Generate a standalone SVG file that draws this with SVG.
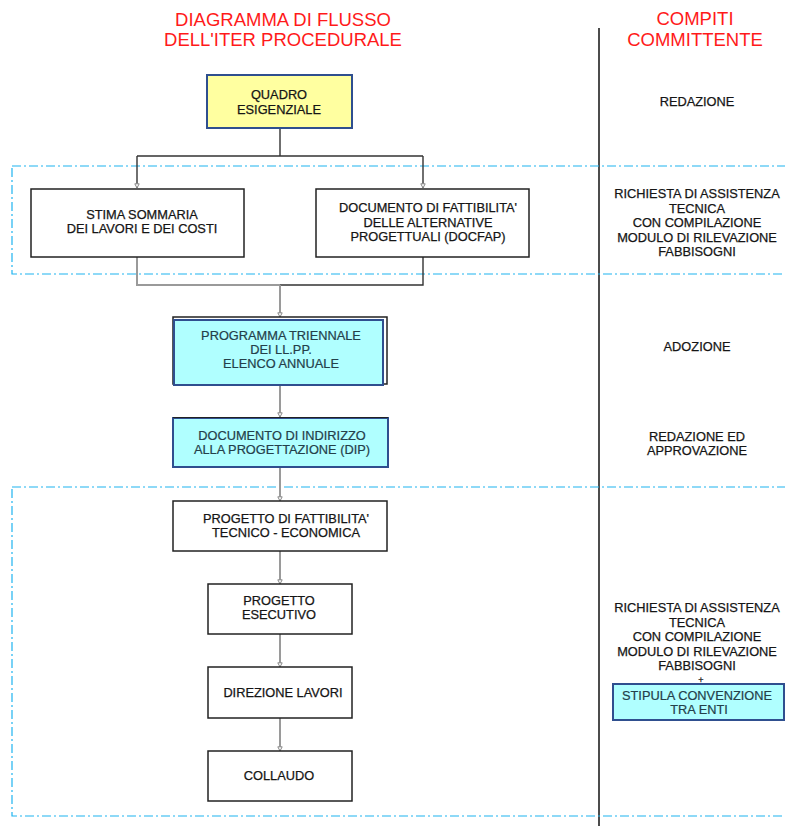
<svg xmlns="http://www.w3.org/2000/svg" width="785" height="826" viewBox="0 0 785 826">
<defs>
<marker id="arr" markerUnits="userSpaceOnUse" markerWidth="6" markerHeight="6" refX="5" refY="3" orient="auto" viewBox="0 0 6 6">
<path d="M0.8,0.8 L5,3 L0.8,5.2 Z" fill="#fff" stroke="#888" stroke-width="1"/>
</marker>
<style>
text{font-family:"Liberation Sans",Arial,sans-serif;text-anchor:middle}
.title{font-size:18.5px;fill:#ff1a1a}
.t{font-size:12.8px;fill:#151515;stroke:#151515;stroke-width:0.25}
.tc{font-size:12.8px;fill:#24404a;stroke:#24404a;stroke-width:0.2}
.box{fill:#fff;stroke:#222;stroke-width:1.5}
.cy{fill:#b0ffff;stroke:#2f4f8f;stroke-width:2}
.dash{fill:none;stroke:#1eb4f0;stroke-width:1.2;stroke-dasharray:9,3,2,3}
.dk{fill:none;stroke:#333;stroke-width:1.4}
.gr{fill:none;stroke:#9a9a9a;stroke-width:2}
</style>
</defs>
<rect width="785" height="826" fill="#fff"/>

<g id="titles">
<text class="title" x="283" y="26">DIAGRAMMA DI FLUSSO</text>
<text class="title" x="283" y="46">DELL'ITER PROCEDURALE</text>
<text class="title" x="695" y="25">COMPITI</text>
<text class="title" x="695" y="46">COMMITTENTE</text>
</g>

<line x1="599" y1="28" x2="599" y2="826" stroke="#111" stroke-width="1.5"/>

<g id="regions">
<rect class="dash" x="12" y="166" width="790" height="108"/>
<rect class="dash" x="12" y="487" width="790" height="329"/>
</g>

<g id="connectors">
<path class="dk" d="M280,128 V156 M137,156 H423"/>
<path class="dk" d="M137,156 V188" marker-end="url(#arr)"/>
<path class="dk" d="M423,156 V188" marker-end="url(#arr)"/>
<path class="gr" d="M137,257 V285 H280"/>
<path class="dk" d="M423,257 V285 H280"/>
<path class="gr" d="M280,285 V317" marker-end="url(#arr)"/>
<path class="gr" d="M280,385 V417" marker-end="url(#arr)"/>
<path class="gr" d="M280,467 V501" marker-end="url(#arr)"/>
<path class="gr" d="M280,551 V584" marker-end="url(#arr)"/>
<path class="gr" d="M280,634 V667" marker-end="url(#arr)"/>
<path class="gr" d="M280,718 V751" marker-end="url(#arr)"/>
</g>

<g id="quadro">
<rect x="207" y="75" width="145" height="53" fill="#ffffa0" stroke="#2f4f8f" stroke-width="2"/>
<text class="t" x="279" y="99">QUADRO</text>
<text class="t" x="279" y="113.5">ESIGENZIALE</text>
</g>

<g id="stima">
<rect class="box" x="31" y="189" width="213" height="68"/>
<text class="t" x="142" y="219">STIMA SOMMARIA</text>
<text class="t" x="142" y="233">DEI LAVORI E DEI COSTI</text>
</g>

<g id="docfap">
<rect class="box" x="316" y="189" width="213" height="68"/>
<text class="t" x="428" y="212">DOCUMENTO DI FATTIBILITA'</text>
<text class="t" x="428" y="226.5">DELLE ALTERNATIVE</text>
<text class="t" x="428" y="241">PROGETTUALI (DOCFAP)</text>
</g>

<g id="programma">
<rect x="173" y="317" width="214" height="67" fill="none" stroke="#222" stroke-width="1.5"/>
<rect class="cy" x="174" y="320" width="209" height="65"/>
<text class="tc" x="281" y="340">PROGRAMMA TRIENNALE</text>
<text class="tc" x="281" y="354">DEI LL.PP.</text>
<text class="tc" x="281" y="368">ELENCO ANNUALE</text>
</g>

<g id="dip">
<rect class="cy" x="173" y="418" width="215" height="49"/>
<line x1="173" y1="417.5" x2="388" y2="417.5" stroke="#222" stroke-width="1"/>
<text class="tc" x="282" y="440">DOCUMENTO DI INDIRIZZO</text>
<text class="tc" x="282" y="454">ALLA PROGETTAZIONE (DIP)</text>
</g>

<g id="pfte">
<rect class="box" x="173" y="501" width="214" height="50"/>
<text class="t" x="286" y="523">PROGETTO DI FATTIBILITA'</text>
<text class="t" x="286" y="537">TECNICO - ECONOMICA</text>
</g>

<g id="esecutivo">
<rect class="box" x="208" y="584" width="144" height="50"/>
<text class="t" x="279" y="605">PROGETTO</text>
<text class="t" x="279" y="619">ESECUTIVO</text>
</g>

<g id="direzione">
<rect class="box" x="208" y="667" width="144" height="51"/>
<text class="t" x="283" y="697">DIREZIONE LAVORI</text>
</g>

<g id="collaudo">
<rect class="box" x="208" y="751" width="144" height="50"/>
<text class="t" x="279" y="780">COLLAUDO</text>
</g>

<g id="compiti">
<text class="t" x="697" y="106">REDAZIONE</text>
<text class="t" x="697" y="198">RICHIESTA DI ASSISTENZA</text>
<text class="t" x="697" y="212.5">TECNICA</text>
<text class="t" x="697" y="227">CON COMPILAZIONE</text>
<text class="t" x="697" y="241.5">MODULO DI RILEVAZIONE</text>
<text class="t" x="697" y="256">FABBISOGNI</text>
<text class="t" x="697" y="351">ADOZIONE</text>
<text class="t" x="697" y="441">REDAZIONE ED</text>
<text class="t" x="697" y="455">APPROVAZIONE</text>
<text class="t" x="697" y="612">RICHIESTA DI ASSISTENZA</text>
<text class="t" x="697" y="626.5">TECNICA</text>
<text class="t" x="697" y="641">CON COMPILAZIONE</text>
<text class="t" x="697" y="655.5">MODULO DI RILEVAZIONE</text>
<text class="t" x="697" y="670">FABBISOGNI</text>
<text class="t" x="701" y="683" style="font-size:9px">+</text>
</g>

<g id="stipula">
<rect class="cy" x="613" y="684" width="171" height="36"/>
<text class="tc" x="697" y="700">STIPULA CONVENZIONE</text>
<text class="tc" x="699" y="714">TRA ENTI</text>
</g>
</svg>
